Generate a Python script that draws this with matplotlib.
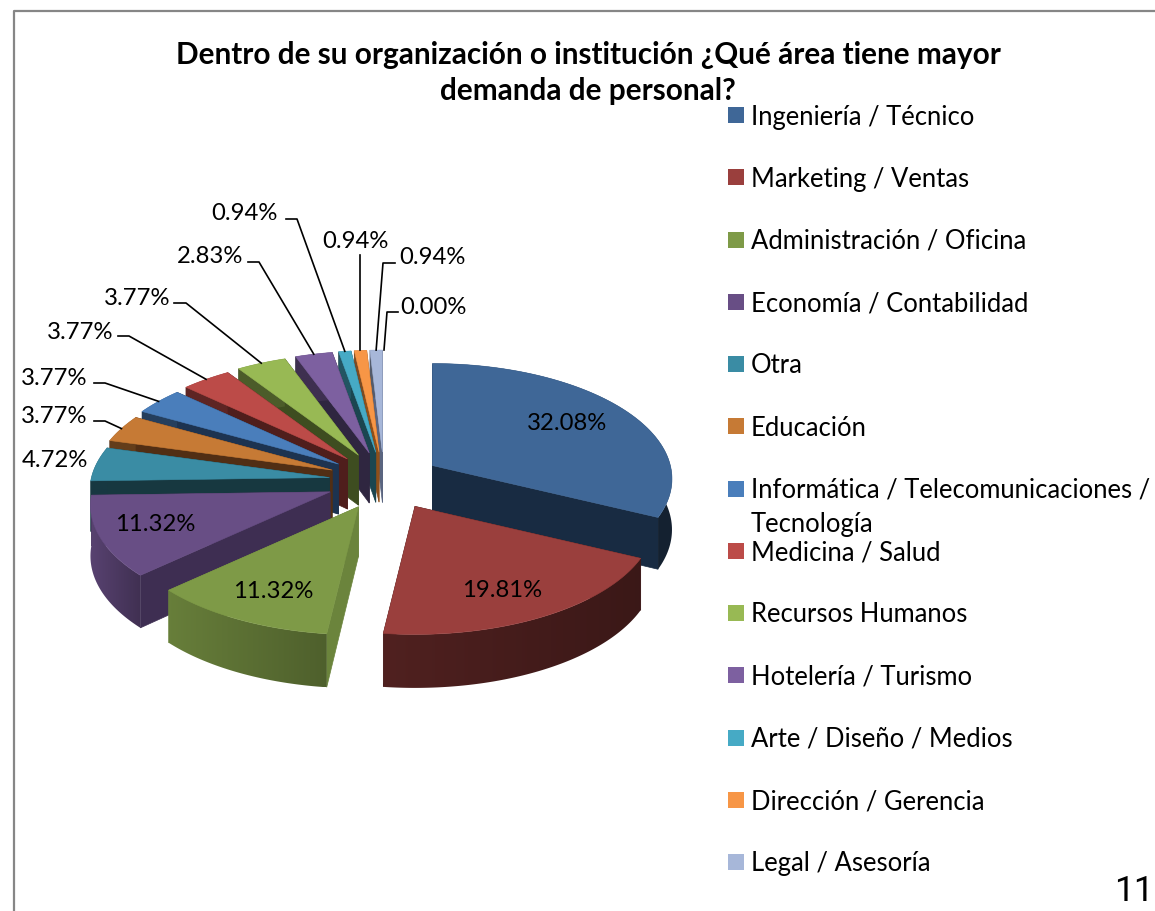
import numpy as np
import matplotlib
matplotlib.use("Agg")
import matplotlib.pyplot as plt
from matplotlib.colors import LinearSegmentedColormap
from matplotlib.patches import Polygon, Rectangle

title_text = "Dentro de su organización o institución ¿Qué área tiene mayor\ndemanda de personal?"

categories = [
    "Ingeniería / Técnico", "Marketing / Ventas", "Administración / Oficina",
    "Economía / Contabilidad", "Otra", "Educación",
    "Informática / Telecomunicaciones /\nTecnología", "Medicina / Salud",
    "Recursos Humanos", "Hotelería / Turismo", "Arte / Diseño / Medios",
    "Dirección / Gerencia", "Legal / Asesoría",
]
# last value has no legend entry in the original, only a label
values = [32.08, 19.81, 11.32, 11.32, 4.72, 3.77, 3.77, 3.77, 3.77, 2.83, 0.94, 0.94, 0.94, 0.00]

top_colors = [
    "#3F6797", "#9A3F3D", "#7E9A47", "#684E85", "#3A8CA4", "#C67A35", "#4A7EBB",
    "#BC4B48", "#98B954", "#7D60A0", "#46AAC5", "#F79646", "#A7B7D9", "#A7B7D9",
]
cut_colors = [
    "#182B42", "#3F1A18", "#6B843C", "#3E2E52", "#173840", "#512E14", "#1D3350",
    "#4F1E1C", "#3E4D20", "#2F2640", "#1B4650", "#8E4F1A", "#5A6580", "#5A6580",
]
# brightness of the outer wall at the start and end of each slice
wall_light = [
    (0.4, 0.32), (0.38, 0.52), (0.62, 0.82), (0.62, 0.85), (0.4, 0.4), (0.5, 0.5), (0.5, 0.5),
    (0.5, 0.5), (0.5, 0.5), (0.5, 0.5), (0.5, 0.5), (0.5, 0.5), (0.5, 0.5), (0.5, 0.5),
]

# pie geometry in pixels
CX, CY = 384, 482
EXPLODE_X, EXPLODE_Y = 56, 29
tip_nudge = [1, 4, 0, -2, 1, 0, 0, 0, 0, 0, 0, 0, 0, 0]

# label position (x, y, ha) and where the leader bends
label_layout = [
    (567, 424, "center", None), (502, 591, "center", None), (273, 592, "center", None),
    (155, 525, "center", None), (88, 461, "right", None), (87, 417, "right", (94, 105, 422)),
    (87, 379, "right", (94, 105, 384)), (113, 333, "right", (118, 129, 337)),
    (170, 299, "right", (174, 186, 304)), (243, 257, "right", (248, 259, 263)),
    (278, 214, "right", (286, 297, 220)), (355, 242, "center", "drop"),
    (399, 258, "left", (395, 383, 264)), (400, 308, "left", (398, 387, 313)),
]


def rim(theta):
    """offset of the rim from the slice tip, wider and lower towards the viewer"""
    c, s = np.cos(theta), np.sin(theta)
    return (238 - 28 * c) * s, -(115 - 13 * c) * c


def depth(theta):
    return 50.5 - 3 * np.cos(theta)


def shade(color, k):
    return np.array(matplotlib.colors.to_rgb(color)) * k


plt.rcParams["font.family"] = ["Lato", "DejaVu Sans"]
fig = plt.figure(figsize=(11.55, 9.12), dpi=100)
ax = fig.add_axes([0, 0, 1, 1])
ax.axis("off")

# chart frame, right and bottom are cut off in the original
ax.plot([14, 14, 1155], [912, 12, 12], color="#868686", lw=1.6, clip_on=False)

ax.text(588, 73, title_text, ha="center", va="center", fontsize=21.4, fontweight="bold",
        linespacing=1.36, color="black")

edges = np.cumsum([0] + values) / sum(values) * 2 * np.pi
mids = (edges[:-1] + edges[1:]) / 2
tips = [(CX + EXPLODE_X * np.sin(m) + n, CY - EXPLODE_Y * np.cos(m)) for m, n in zip(mids, tip_nudge)]

# paint from the back of the pie to the front
for pos, i in enumerate(sorted(range(len(values)), key=lambda n: -np.cos(mids[n]))):
    if values[i] == 0:
        continue
    tx, ty = tips[i]
    t = np.linspace(edges[i], edges[i + 1], 100)
    rx, ry = rim(t)
    x, y = tx + rx, ty + ry
    low = y + depth(t)
    z = 2 + pos

    for j in (0, -1):
        ax.add_patch(Polygon([(tx, ty), (x[j], y[j]), (x[j], low[j]), (tx, ty + 50)],
                             fc=cut_colors[i], ec=cut_colors[i], lw=0.5, zorder=z))

    # outer wall as a left to right gradient clipped to its outline
    k0, k1 = wall_light[i]
    if x[0] > x[-1]:
        k0, k1 = k1, k0
    cmap = LinearSegmentedColormap.from_list("wall", [shade(top_colors[i], k0), shade(top_colors[i], k1)])
    wall = Polygon(np.vstack([np.column_stack([x, y]), np.column_stack([x, low])[::-1]]),
                   fc="none", ec="none", zorder=z)
    ax.add_patch(wall)
    im = ax.imshow(np.linspace(0, 1, 256)[None, :], cmap=cmap, aspect="auto", zorder=z,
                   extent=(x.min(), x.max(), low.max(), y.min()))
    im.set_clip_path(wall)

    ax.add_patch(Polygon(np.vstack([[tx, ty], np.column_stack([x, y])]),
                         fc=top_colors[i], ec=top_colors[i], lw=0.4, zorder=z))

# value labels and leaders
for i, (lx, ly, ha, lead) in enumerate(label_layout):
    ax.text(lx, ly, f"{values[i]:.2f}%", ha=ha, va="center", fontsize=17.2, color="black", zorder=50)
    if lead is None:
        continue
    rx, ry = rim(mids[i])
    ex, ey = tips[i][0] + rx, tips[i][1] + ry
    if lead == "drop":
        ax.plot([ex, ex], [256, ey], color="black", lw=1.2, zorder=40)
    else:
        ax.plot([lead[0], lead[1], ex], [lead[2], lead[2], ey], color="black", lw=1.2, zorder=40)

# legend
for i, name in enumerate(categories):
    ly = 116 + 62.25 * i
    ax.add_patch(Rectangle((728, ly - 8), 16, 16, fc=top_colors[i], ec="none"))
    ax.text(751, ly + 1, name.split("\n")[0], ha="left", va="center", fontsize=18.45, color="black")
    if "\n" in name:
        ax.text(751, ly + 35, name.split("\n")[1], ha="left", va="center", fontsize=18.45, color="black")

ax.text(1154, 892, "11", ha="right", va="center", fontsize=25.5, family="Roboto", color="black")

ax.set_xlim(0, 1155)
ax.set_ylim(912, 0)
fig.savefig("out.png", dpi=100)
